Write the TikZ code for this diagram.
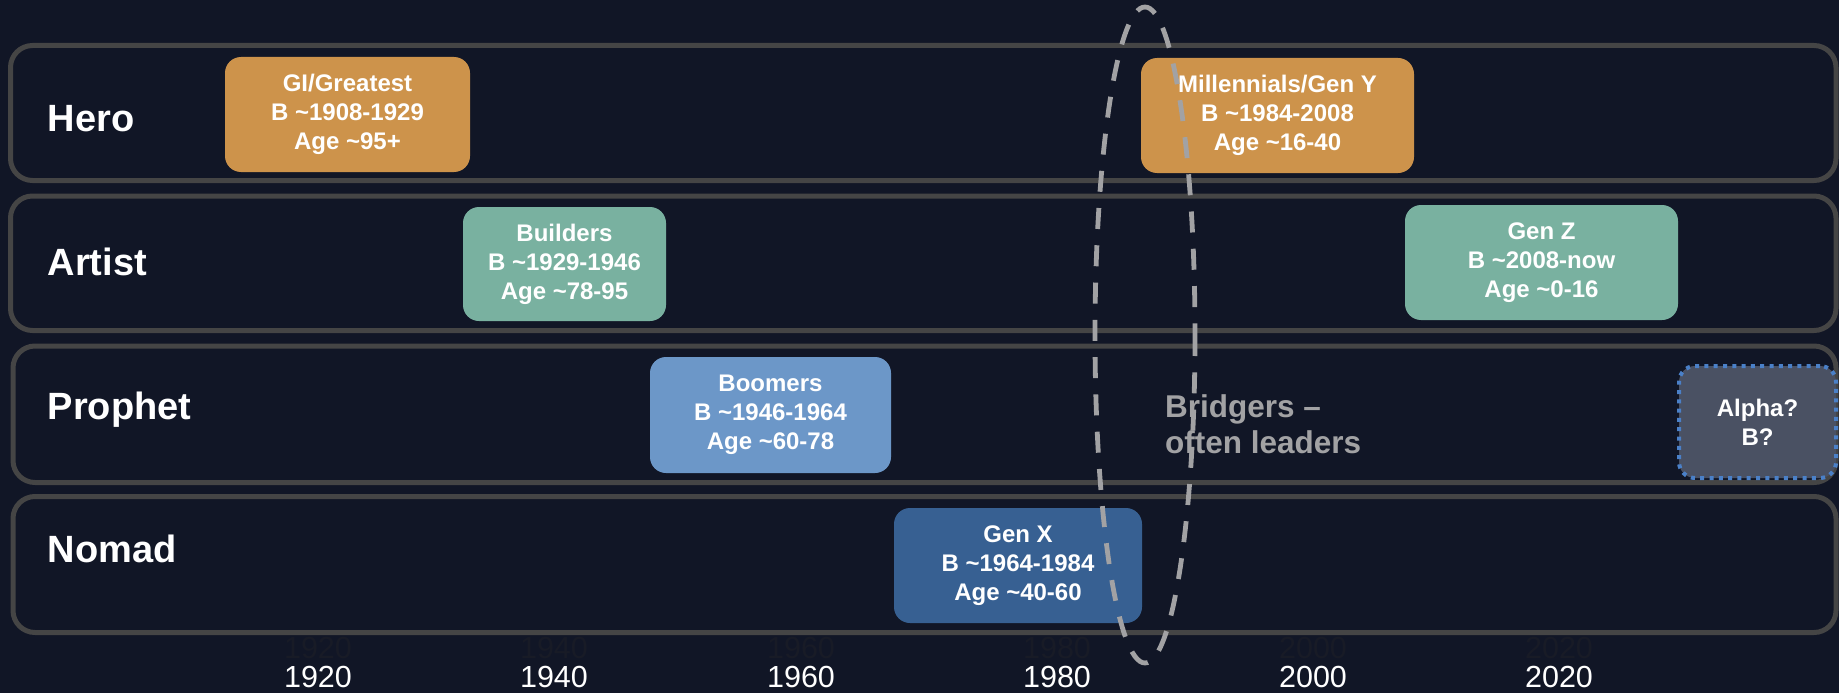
\documentclass[tikz,border=0pt]{standalone}
\usepackage{fontspec}
\setmainfont{Liberation Sans}
\definecolor{bgc}{HTML}{111626}
\definecolor{rowc}{HTML}{454545}
\definecolor{orangec}{HTML}{CD934B}
\definecolor{tealc}{HTML}{79B1A0}
\definecolor{lbluec}{HTML}{6C97C8}
\definecolor{dbluec}{HTML}{376092}
\definecolor{alphafill}{HTML}{4A5163}
\definecolor{alphaborder}{HTML}{4A80C8}
\definecolor{bridgec}{HTML}{A2A2A4}
\definecolor{ghostc}{HTML}{181B26}
\tikzset{
  rowbox/.style={draw=rowc, line width=5pt, rounded corners=22pt},
  genbox/.style={rounded corners=16pt, inner sep=0pt, text=white, align=center,
    font=\bfseries\fontsize{24}{29}\selectfont},
  rowlabel/.style={anchor=base west, inner sep=0pt, text=white,
    font=\bfseries\fontsize{38}{44}\selectfont},
  yearlabel/.style={anchor=base, inner sep=0pt, text=white,
    font=\fontsize{30.5}{36}\selectfont},
  ghostlabel/.style={anchor=base, inner sep=0pt, text=ghostc,
    font=\fontsize{30.5}{36}\selectfont},
  bridgeline/.style={draw=bridgec, line width=4.8pt, dash pattern=on 21pt off 16.3pt},
}
\begin{document}
\begin{tikzpicture}[x=1pt,y=-1pt]
\useasboundingbox (0,0) rectangle (1839,693);
\fill[bgc] (0,0) rectangle (1839,693);

% ghost year labels
\node[ghostlabel] (g1920) at (318,658) {1920};
\node[ghostlabel] (g1940) at (554,658) {1940};
\node[ghostlabel] (g1960) at (801,658) {1960};
\node[ghostlabel] (g1980) at (1057,658) {1980};
\node[ghostlabel] (g2000) at (1313,658) {2000};
\node[ghostlabel] (g2020) at (1559,658) {2020};

% rows
\draw[rowbox] (10.5,45.5) rectangle (1836,180.5);
\draw[rowbox] (10.5,196) rectangle (1836,330.5);
\draw[rowbox] (13,346) rectangle (1836,482.5);
\draw[rowbox] (13,496.5) rectangle (1836,632.5);

% row labels
\node[rowlabel] (hero) at (47.5,131) {Hero};
\node[rowlabel] (artist) at (47.5,275) {Artist};
\node[rowlabel] (prophet) at (47.5,419) {Prophet};
\node[rowlabel] (nomad) at (47.5,562.5) {Nomad};

% generation boxes
\node[genbox, fill=orangec, minimum width=245pt, minimum height=115pt] (gi) at (347.5,114.5)
  {GI/Greatest\\B \textasciitilde1908-1929\\Age \textasciitilde95+};
\node[genbox, fill=orangec, minimum width=273pt, minimum height=115pt] (mill) at (1277.5,115.5)
  {Millennials/Gen Y\\B \textasciitilde1984-2008\\Age \textasciitilde16-40};
\node[genbox, fill=tealc, minimum width=203pt, minimum height=114pt] (builders) at (564.5,264)
  {Builders\\B \textasciitilde1929-1946\\Age \textasciitilde78-95};
\node[genbox, fill=tealc, minimum width=273pt, minimum height=115pt] (genz) at (1541.5,262.5)
  {Gen Z\\B \textasciitilde2008-now\\Age \textasciitilde0-16};
\node[genbox, fill=lbluec, minimum width=241pt, minimum height=116pt] (boomers) at (770.5,415)
  {Boomers\\B \textasciitilde1946-1964\\Age \textasciitilde60-78};
\node[genbox, fill=dbluec, minimum width=248pt, minimum height=115pt] (genx) at (1018,565.5)
  {Gen X\\B \textasciitilde1964-1984\\Age \textasciitilde40-60};
\node[genbox, fill=alphafill, draw=alphaborder, line width=4pt, dash pattern=on 4pt off 5.3pt,
  minimum width=157pt, minimum height=112pt] (alpha) at (1757.5,422)
  {Alpha?\\B?};

% bridgers text
\node[anchor=north west, inner sep=0pt, text=bridgec, align=left,
  font=\bfseries\fontsize{31.5}{36.7}\selectfont] (bridgers) at (1165,394)
  {Bridgers --\\often leaders};

% bridging ellipse
\draw[bridgeline] (1145,335) ellipse [x radius=50, y radius=328];

% year labels
\node[yearlabel] (y1920) at (318,687) {1920};
\node[yearlabel] (y1940) at (554,687) {1940};
\node[yearlabel] (y1960) at (801,687) {1960};
\node[yearlabel] (y1980) at (1057,687) {1980};
\node[yearlabel] (y2000) at (1313,687) {2000};
\node[yearlabel] (y2020) at (1559,687) {2020};
\end{tikzpicture}
\end{document}
